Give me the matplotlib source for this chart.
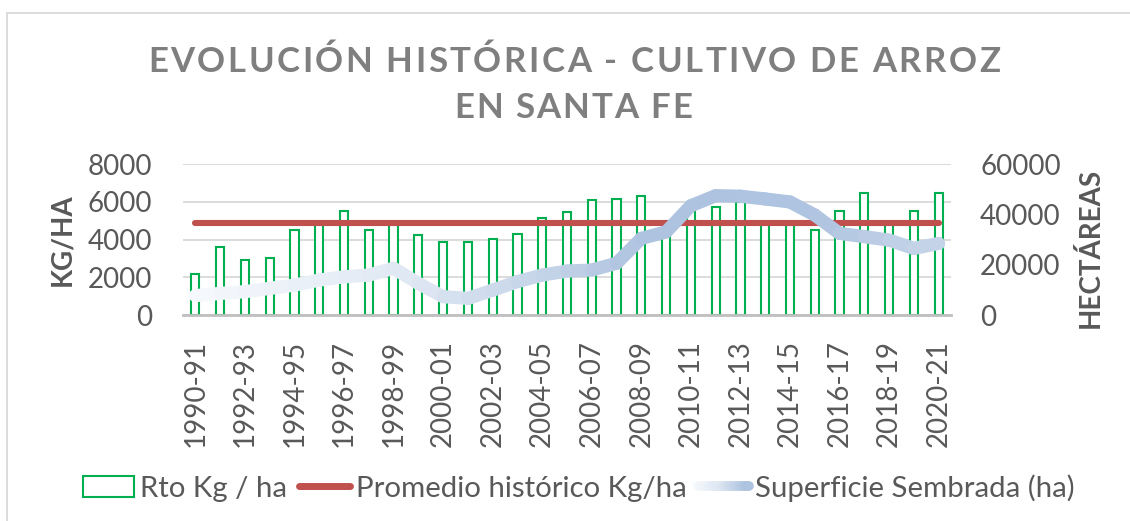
import matplotlib
matplotlib.use('Agg')
import matplotlib.pyplot as plt
import numpy as np
from matplotlib.collections import LineCollection
from matplotlib.legend_handler import HandlerBase
from matplotlib.colors import LinearSegmentedColormap
from matplotlib.patches import Patch
from matplotlib.lines import Line2D

plt.rcParams['font.family'] = ['Lato', 'DejaVu Sans']

# ---------------- data ----------------
seasons = ['1990-91', '1991-92', '1992-93', '1993-94', '1994-95', '1995-96', '1996-97',
           '1997-98', '1998-99', '1999-00', '2000-01', '2001-02', '2002-03', '2003-04',
           '2004-05', '2005-06', '2006-07', '2007-08', '2008-09', '2009-10', '2010-11',
           '2011-12', '2012-13', '2013-14', '2014-15', '2015-16', '2016-17', '2017-18',
           '2018-19', '2019-20', '2020-21']
rto = [2200, 3600, 2900, 3050, 4500, 4850, 5500, 4500, 4850, 4250, 3900, 3900, 4050, 4280,
       5150, 5450, 6100, 6150, 6330, 4400, 5700, 5750, 6000, 4850, 4850, 4500, 5500, 6500,
       4850, 5500, 6500]
promedio = 4880
superficie = [7700, 8600, 9300, 10600, 11900, 13900, 15200, 15900, 18600, 12600, 7300, 6600,
              9900, 13300, 15900, 17500, 17900, 20600, 30500, 33100, 43500, 47500, 47300, 46200,
              45000, 39800, 32500, 31200, 29800, 26500, 28500]
y_ticks = [0, 2000, 4000, 6000, 8000]
y2_ticks = [0, 20000, 40000, 60000]
labels = ['Rto Kg / ha', 'Promedio histórico Kg/ha', 'Superficie Sembrada (ha)']

# ---------------- figure ----------------
W, H = 1130, 521
fig = plt.figure(figsize=(W / 100, H / 100), dpi=100)
ax = fig.add_axes([183 / W, (H - 315) / H, 768 / W, 150.7 / H])
ax2 = ax.twinx()

txt = '#595959'
grad = LinearSegmentedColormap.from_list(
    'g', [(0, '#f5f8fc'), (0.3, '#dde6f2'), (0.62, '#aec3df'), (0.85, '#afc4e0'), (1, '#c4d3e8')])

x = np.arange(len(seasons))
ax.bar(x, rto, width=0.33, facecolor='white', edgecolor='#00b050', linewidth=1.5, zorder=2)
ax.plot(x, np.full(len(x), promedio), color='#c0504d', lw=4.4, solid_capstyle='round', zorder=3)

pts = np.column_stack([x, superficie])
segs = np.stack([pts[:-1], pts[1:]], axis=1)
cols = [grad(v) for v in np.linspace(0, 1, len(segs))]
lc = LineCollection(segs, colors=cols, linewidths=9.5, capstyle='round', joinstyle='round', zorder=4)
ax2.add_collection(lc)

ax.set_xlim(-0.5, len(x) - 0.5)
ax.set_ylim(0, 8000)
ax.set_yticks(y_ticks)
ax2.set_ylim(0, 60000)
ax2.set_yticks(y2_ticks)

ax.grid(axis='y', color='#d9d9d9', lw=1.3)
ax.set_axisbelow(True)
for s in ['top', 'left', 'right']:
    ax.spines[s].set_visible(False)
ax.spines['bottom'].set_color('#bfbfbf')
ax.spines['bottom'].set_linewidth(2)
for s in ax2.spines.values():
    s.set_visible(False)

ax.set_xticks(x[::2])
ax.set_xticklabels(seasons[::2], rotation=90)
ax.tick_params(axis='x', length=0, labelsize=20, labelcolor=txt, pad=18)
ax.tick_params(axis='y', length=0, labelsize=20, labelcolor=txt, pad=22)
ax2.tick_params(axis='y', length=0, labelsize=20, labelcolor=txt, pad=21)

fig.text(62 / W, (H - 240) / H, 'KG/HA', rotation=90, ha='center', va='center',
         fontsize=20, fontweight='bold', color=txt)
fig.text(1090 / W, (H - 248) / H, 'HECTÁREAS', rotation=90, ha='center', va='center',
         fontsize=20, fontweight='bold', color=txt)

# ---------------- title with letter spacing ----------------
r = fig.canvas.get_renderer()
tkw = dict(fontsize=25, fontweight='bold', color='#7f7f7f')


def tw(s):
    t = fig.text(0, 0, s + 'I', **tkw)
    w = t.get_window_extent(renderer=r).width
    t.remove()
    t = fig.text(0, 0, 'I', **tkw)
    w -= t.get_window_extent(renderer=r).width
    t.remove()
    return w


def tracked(s, left, right, baseline):
    total = tw(s)
    track = (right - left - total) / (len(s) - 1)
    for i, ch in enumerate(s):
        if ch == ' ':
            continue
        px = left + tw(s[:i]) + i * track
        fig.text(px / W, (H - baseline) / H, ch, ha='left', va='baseline', **tkw)


tracked('EVOLUCIÓN HISTÓRICA - CULTIVO DE ARROZ', 148, 1000, 72)
tracked('EN SANTA FE', 454, 692, 118)


# ---------------- legend ----------------
class GradHandle:
    pass


class HandlerGrad(HandlerBase):
    def create_artists(self, legend, orig_handle, xdescent, ydescent, width, height, fontsize, trans):
        n = 24
        xs = np.linspace(-xdescent, width - xdescent, n + 1)
        y = height / 2 - ydescent
        sg = [[(xs[i], y), (xs[i + 1], y)] for i in range(n)]
        cl = [grad(v) for v in np.linspace(0, 0.62, n)]
        l = LineCollection(sg, colors=cl, linewidths=7, capstyle='round', transform=trans)
        return [l]


handles = [Patch(facecolor='white', edgecolor='#00b050', lw=1.5),
           Line2D([], [], color='#c0504d', lw=5, solid_capstyle='round'),
           GradHandle()]
fig.legend(handles, labels, loc='center', bbox_to_anchor=(579 / W, (H - 488) / H), ncol=3,
           frameon=False, fontsize=21.2, handlelength=1.73, handletextpad=0.2, columnspacing=0.4,
           labelcolor=txt, handler_map={GradHandle: HandlerGrad()})

# ---------------- chart border ----------------
fig.add_artist(Line2D([7 / W, 7 / W], [0, (H - 13) / H], transform=fig.transFigure,
                      color='#d9d9d9', lw=1.3))
fig.add_artist(Line2D([7 / W, 1], [(H - 13) / H, (H - 13) / H], transform=fig.transFigure,
                      color='#d9d9d9', lw=1.3))

fig.savefig('out.png', dpi=100)
